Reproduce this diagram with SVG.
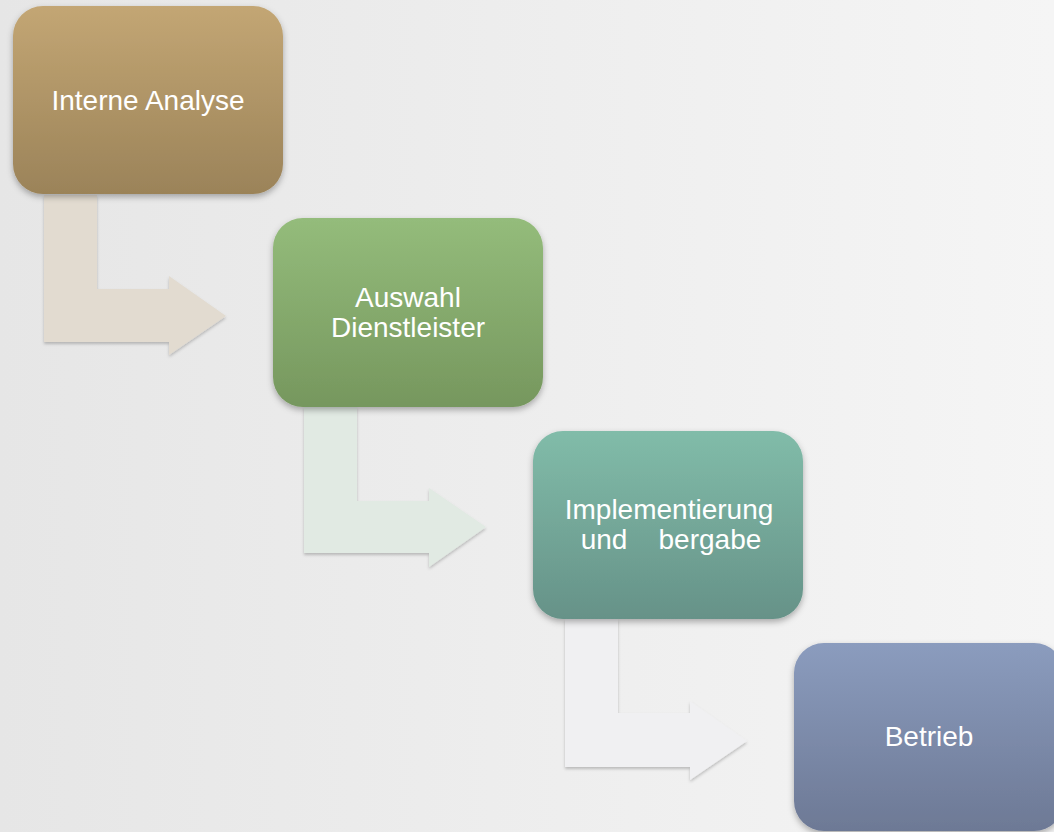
<svg xmlns="http://www.w3.org/2000/svg" width="1054" height="832" viewBox="0 0 1054 832">
<defs>
<linearGradient id="bg" x1="0" y1="0" x2="1" y2="0">
<stop offset="0" stop-color="#e6e6e6"/>
<stop offset="1" stop-color="#f5f5f5"/>
</linearGradient>
<linearGradient id="g1" x1="0" y1="0" x2="0" y2="1">
<stop offset="0" stop-color="#c3a674"/>
<stop offset="1" stop-color="#9b8359"/>
</linearGradient>
<linearGradient id="g2" x1="0" y1="0" x2="0" y2="1">
<stop offset="0" stop-color="#94bc7b"/>
<stop offset="1" stop-color="#76975e"/>
</linearGradient>
<linearGradient id="g3" x1="0" y1="0" x2="0" y2="1">
<stop offset="0" stop-color="#81bca9"/>
<stop offset="1" stop-color="#669288"/>
</linearGradient>
<linearGradient id="g4" x1="0" y1="0" x2="0" y2="1">
<stop offset="0" stop-color="#8b9cbe"/>
<stop offset="1" stop-color="#6d7995"/>
</linearGradient>
<filter id="sh" x="-10%" y="-10%" width="120%" height="125%">
<feDropShadow dx="0" dy="3" stdDeviation="3" flood-color="#000" flood-opacity="0.3"/>
</filter>
<filter id="ash" x="-10%" y="-10%" width="120%" height="125%">
<feDropShadow dx="0" dy="2" stdDeviation="1.5" flood-color="#000" flood-opacity="0.22"/>
</filter>
</defs>
<style>
.box{filter:url(#sh);}
.lbl{font-family:"Liberation Sans",Arial,sans-serif;font-size:28px;fill:#ffffff;text-anchor:middle;}
.arr{filter:url(#ash);}
</style>
<rect x="0" y="0" width="1054" height="832" fill="url(#bg)"/>
<g id="connectors">
<path class="arr" fill="#e2dbd0" d="M44,195 L97,195 L97,289 L169,289 L169,276 L226,316 L169,355 L169,342 L44,342 Z"/>
<path class="arr" fill="#e1eae3" d="M304,407 L357,407 L357,501 L429,501 L429,488 L486,527 L429,567 L429,553 L304,553 Z"/>
<path class="arr" fill="#f0f0f2" d="M565,619 L618,619 L618,713 L690,713 L690,701 L747,741 L690,780 L690,767 L565,767 Z"/>
</g>
<g id="node1">
<rect class="box" x="13" y="6" width="270" height="188" rx="30" ry="30" fill="url(#g1)"/>
<text class="lbl" x="148" y="110">Interne Analyse</text>
</g>
<g id="node2">
<rect class="box" x="273" y="218" width="270" height="189" rx="30" ry="30" fill="url(#g2)"/>
<text class="lbl" x="408" y="307">Auswahl</text>
<text class="lbl" x="408" y="337">Dienstleister</text>
</g>
<g id="node3">
<rect class="box" x="533" y="431" width="270" height="188" rx="30" ry="30" fill="url(#g3)"/>
<text class="lbl" x="669" y="519">Implementierung</text>
<text class="lbl" x="671" y="549" xml:space="preserve" style="white-space:pre">und    bergabe</text>
</g>
<g id="node4">
<rect class="box" x="794" y="643" width="270" height="188" rx="30" ry="30" fill="url(#g4)"/>
<text class="lbl" x="929" y="746">Betrieb</text>
</g>
</svg>
